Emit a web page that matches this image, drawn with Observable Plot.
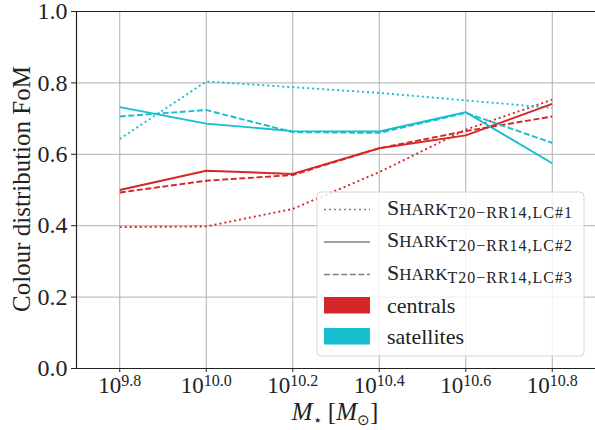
<!DOCTYPE html>
<html><head><meta charset="utf-8">
<script src="https://cdn.jsdelivr.net/npm/d3@7"></script>
<script src="https://cdn.jsdelivr.net/npm/@observablehq/plot@0.6"></script>
<style>
body{margin:0;background:#fff}
#chart svg, #chart svg text, #chart svg tspan{font-family:"Liberation Serif","Times New Roman",serif !important}
</style>
</head><body><div id="chart"></div>
<script>
const logMass = [9.8, 10.0, 10.2, 10.4, 10.6, 10.8];
const xTicks = [9.8, 10.0, 10.2, 10.4, 10.6, 10.8];
const yTicks = [0, 0.2, 0.4, 0.6, 0.8, 1.0];
const yGrid = [0.2, 0.4, 0.6, 0.8];
const centralsLC1 = [0.396, 0.398, 0.447, 0.550, 0.669, 0.753];
const centralsLC2 = [0.500, 0.554, 0.545, 0.617, 0.653, 0.741];
const centralsLC3 = [0.493, 0.526, 0.542, 0.617, 0.665, 0.706];
const satellitesLC1 = [0.643, 0.804, 0.788, 0.772, 0.751, 0.730];
const satellitesLC2 = [0.732, 0.686, 0.665, 0.664, 0.718, 0.575];
const satellitesLC3 = [0.706, 0.724, 0.662, 0.660, 0.716, 0.632];
const populations = ["centrals", "satellites"];
const popColors = ["#d62728", "#17becf"];
const lightcones = ["LC#1", "LC#2", "LC#3"];
const dashes = ["2,3", null, "6,2.6"];

const series = {
  centrals: [centralsLC1, centralsLC2, centralsLC3],
  satellites: [satellitesLC1, satellitesLC2, satellitesLC3]
};
const rows = [];
for (const pop of populations) {
  series[pop].forEach((vals, i) => {
    vals.forEach((v, j) => rows.push({pop, lc: lightcones[i], x: logMass[j], y: v}));
  });
}

const xDomain = [9.7, 10.9];
const yDomain = [0, 1];
const ink = "#222";
const serif = '"Liberation Serif", "Times New Roman", serif';

const lineMarks = lightcones.map((lc, i) =>
  Plot.line(rows.filter(d => d.lc === lc), {
    x: "x", y: "y", z: "pop", stroke: "pop", strokeWidth: 1.9,
    strokeLinecap: "butt", strokeLinejoin: "round",
    strokeDasharray: dashes[i] ?? undefined
  })
);

const plot = Plot.plot({
  width: 595, height: 430,
  marginLeft: 76, marginRight: 0, marginTop: 11, marginBottom: 62,
  style: {fontFamily: serif, background: "#fff", color: ink},
  x: {domain: xDomain},
  y: {domain: yDomain},
  color: {domain: populations, range: popColors},
  marks: [
    Plot.gridX(xTicks, {stroke: "#b0b0b0", strokeOpacity: 1, strokeWidth: 1}),
    Plot.gridY(yGrid, {stroke: "#b0b0b0", strokeOpacity: 1, strokeWidth: 1}),
    Plot.axisY(yTicks, {tickFormat: d => d.toFixed(1), tickSize: 5, tickPadding: 4, fontSize: 24, label: null, stroke: ink, fill: ink}),
    Plot.axisX(xTicks, {tickFormat: d => d.toFixed(1), tickSize: 4, tickPadding: 4, fontSize: 23, label: null, stroke: ink, fill: ink}),
    ...lineMarks,
    Plot.ruleY(yDomain, {stroke: ink, strokeWidth: 1.2}),
    Plot.ruleX([xDomain[0]], {stroke: ink, strokeWidth: 1.2})
  ]
});

document.getElementById("chart").appendChild(plot);
plot.setAttribute("font-family", serif);

// superscript exponents on x tick labels: 10^{9.8}
plot.querySelectorAll('[aria-label="x-axis tick label"] text').forEach(t => {
  const e = t.textContent;
  t.textContent = "10";
  const ts = document.createElementNS("http://www.w3.org/2000/svg", "tspan");
  ts.setAttribute("font-size", "16");
  ts.setAttribute("dy", "-0.45em");
  ts.textContent = e;
  t.appendChild(ts);
});

const svg = d3.select(plot);
// y label
svg.append("text")
  .attr("transform", "translate(30,189) rotate(-90)")
  .attr("text-anchor", "middle").attr("font-size", 25).attr("fill", ink)
  .text("Colour distribution FoM");
// x label  M_star [M_sun]
const xl = svg.append("text").attr("x", 335).attr("y", 420)
  .attr("text-anchor", "middle").attr("font-size", 25).attr("fill", ink);
xl.append("tspan").attr("font-style", "italic").text("M");
xl.append("tspan").attr("font-size", 15).attr("dy", 5).text("⋆");
xl.append("tspan").attr("dy", -5).text(" [");
xl.append("tspan").attr("font-style", "italic").text("M");
xl.append("tspan").attr("font-size", 15).attr("dy", 5).text("⊙");
xl.append("tspan").attr("dy", -5).text("]");

// legend
const lg = svg.append("g").attr("text-anchor", "start");
lg.append("rect").attr("x", 317).attr("y", 192).attr("width", 267).attr("height", 164)
  .attr("rx", 4).attr("fill", "#fff").attr("fill-opacity", 0.8)
  .attr("stroke", "#d6d6d6").attr("stroke-width", 1);
const lineRowsY = [209.5, 242, 274.5];
lightcones.forEach((lc, i) => {
  const y = lineRowsY[i];
  const ln = lg.append("line").attr("x1", 324).attr("x2", 370).attr("y1", y).attr("y2", y)
    .attr("stroke", "#808080").attr("stroke-width", 1.6);
  if (dashes[i]) ln.attr("stroke-dasharray", dashes[i]);
  const t = lg.append("text").attr("x", 387).attr("y", y + 5).attr("fill", ink)
    .attr("font-size", 22).attr("text-anchor", "start");
  t.append("tspan").text("S");
  t.append("tspan").attr("font-size", 17).text("HARK");
  t.append("tspan").attr("font-size", 16).attr("dy", 3.5).attr("letter-spacing", 1).text("T20−RR14," + lc);
});
const patchY = [297, 328];
populations.forEach((p, i) => {
  lg.append("rect").attr("x", 324).attr("y", patchY[i]).attr("width", 46).attr("height", 16.5)
    .attr("fill", popColors[i]);
  lg.append("text").attr("x", 387).attr("y", patchY[i] + 15.5).attr("fill", ink)
    .attr("font-size", 22).attr("text-anchor", "start").text(p);
});
</script>
</body></html>
